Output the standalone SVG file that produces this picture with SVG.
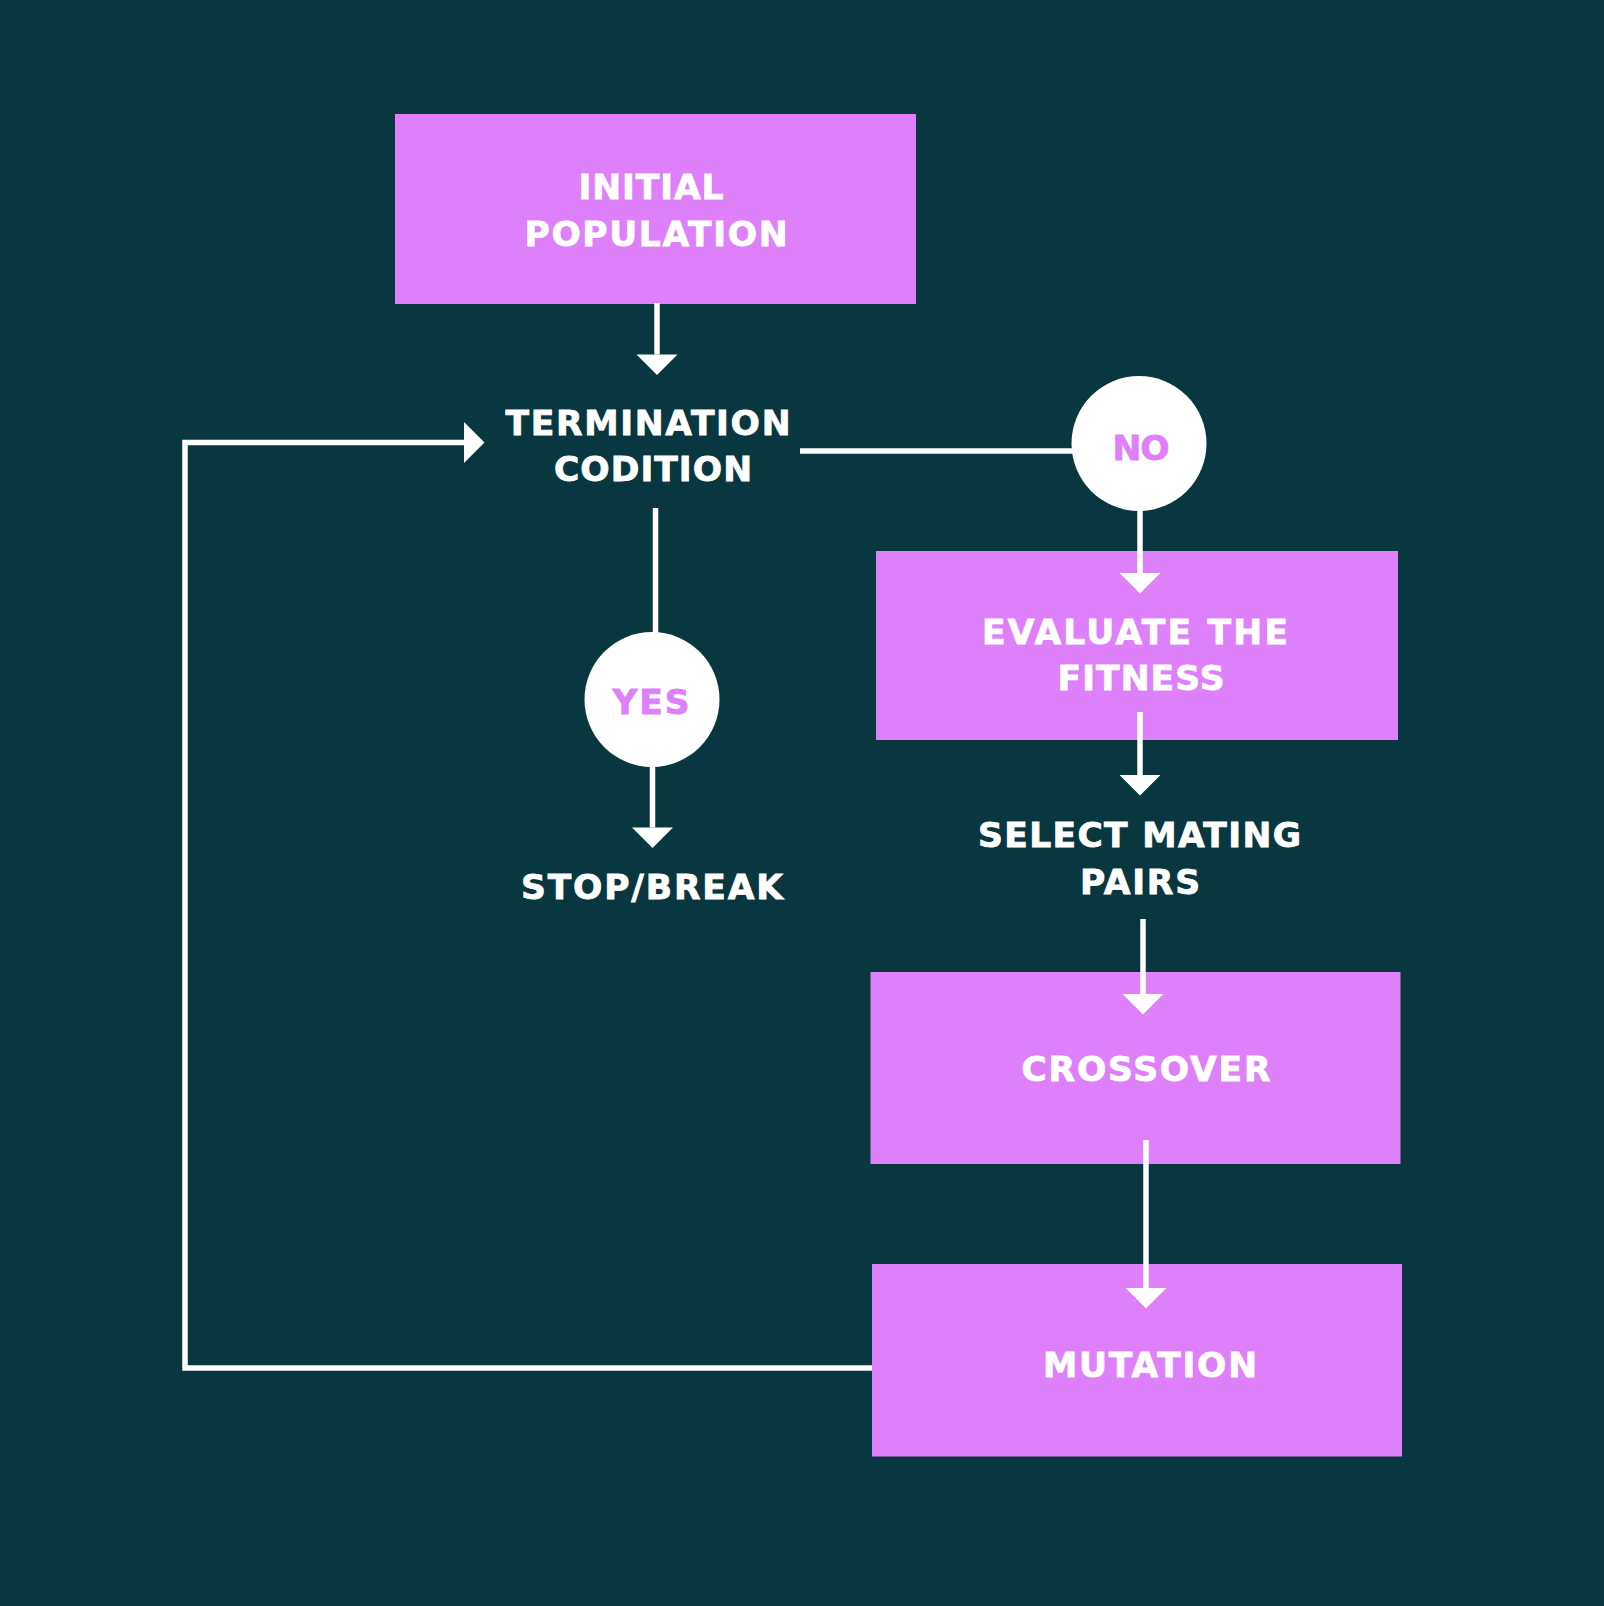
<svg xmlns="http://www.w3.org/2000/svg" width="1604" height="1606" viewBox="0 0 1604 1606">
  <style>
    .box { fill: #de80fa; }
    .circ { fill: #ffffff; }
    .t { font-family: "DejaVu Sans", "Liberation Sans", sans-serif; font-weight: bold; font-size: 34.5px; text-anchor: middle; fill: #ffffff; stroke: #ffffff; stroke-width: 0.8; }
    .tc { fill: #de80fa; stroke: #de80fa; }
    .ln { stroke: #ffffff; stroke-width: 5.5; fill: none; }
  </style>
  <defs>
    <marker id="ah" markerUnits="userSpaceOnUse" markerWidth="22" markerHeight="42" refX="0" refY="20.5" orient="auto" overflow="visible">
      <path d="M0,0 L20.5,20.5 L0,41 Z" fill="#ffffff"/>
    </marker>
  </defs>
  <rect x="0" y="0" width="1604" height="1606" fill="#083740"/>

  <g id="initial-population">
    <rect class="box" x="395" y="114" width="521" height="190"/>
    <text class="t" x="651" y="199" textLength="145" lengthAdjust="spacing">INITIAL</text>
    <text class="t" x="656" y="246" textLength="263" lengthAdjust="spacing">POPULATION</text>
  </g>

  <g id="termination-condition">
    <text class="t" x="648" y="435" textLength="285" lengthAdjust="spacing">TERMINATION</text>
    <text class="t" x="653" y="481" textLength="198" lengthAdjust="spacing">CODITION</text>
  </g>

  <g id="no">
    <circle class="circ" cx="1139" cy="443.5" r="67.5"/>
    <text class="t tc" x="1141" y="460" textLength="57" lengthAdjust="spacing">NO</text>
  </g>

  <g id="yes">
    <circle class="circ" cx="652" cy="699.5" r="67.5"/>
    <text class="t tc" x="651" y="714" textLength="77" lengthAdjust="spacing">YES</text>
  </g>

  <g id="stop-break">
    <text class="t" x="652" y="899" textLength="262" lengthAdjust="spacing">STOP/BREAK</text>
  </g>

  <g id="evaluate-fitness">
    <rect class="box" x="876" y="551" width="522" height="189"/>
    <text class="t" x="1135" y="644" textLength="306" lengthAdjust="spacing">EVALUATE THE</text>
    <text class="t" x="1141" y="690" textLength="167" lengthAdjust="spacing">FITNESS</text>
  </g>

  <g id="select-mating-pairs">
    <text class="t" x="1139.5" y="847" textLength="323" lengthAdjust="spacing">SELECT MATING</text>
    <text class="t" x="1140" y="894" textLength="120" lengthAdjust="spacing">PAIRS</text>
  </g>

  <g id="crossover">
    <rect class="box" x="870.5" y="972" width="530" height="192"/>
    <text class="t" x="1146" y="1081" textLength="249" lengthAdjust="spacing">CROSSOVER</text>
  </g>

  <g id="mutation">
    <rect class="box" x="872" y="1264" width="530" height="192.5"/>
    <text class="t" x="1150" y="1377" textLength="214" lengthAdjust="spacing">MUTATION</text>
  </g>

  <g id="connectors">
    <line class="ln" x1="657" y1="303" x2="657" y2="354.5" marker-end="url(#ah)"/>
    <path class="ln" d="M872,1368 H185 V442.5 H464" marker-end="url(#ah)"/>
    <line class="ln" x1="800" y1="451" x2="1073" y2="451"/>
    <line class="ln" x1="1140" y1="510" x2="1140" y2="573" marker-end="url(#ah)"/>
    <line class="ln" x1="655.5" y1="508" x2="655.5" y2="633"/>
    <line class="ln" x1="652.5" y1="766" x2="652.5" y2="827.5" marker-end="url(#ah)"/>
    <line class="ln" x1="1140" y1="712" x2="1140" y2="775" marker-end="url(#ah)"/>
    <line class="ln" x1="1143" y1="919" x2="1143" y2="994" marker-end="url(#ah)"/>
    <line class="ln" x1="1146" y1="1140" x2="1146" y2="1288" marker-end="url(#ah)"/>
  </g>
</svg>
